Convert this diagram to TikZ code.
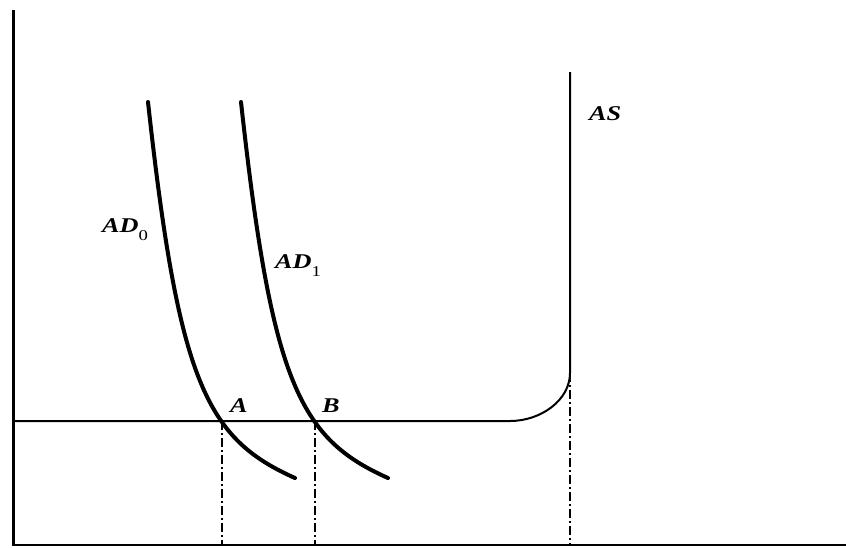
\documentclass[tikz,border=0pt]{standalone}
\usepackage{fontspec}
\setmainfont{Liberation Serif}
\newcommand{\widelbl}[1]{\scalebox{1.25}[1]{#1}}
\newcommand{\lowsub}[1]{\raisebox{-8pt}{\fontsize{15}{15}\selectfont\upshape\mdseries #1}}
\begin{document}
\begin{tikzpicture}[x=1pt,y=-1pt,
  axisline/.style={line width=2pt},
  adcurve/.style={line width=4pt,line cap=round},
  ascurve/.style={line width=2pt},
  guide/.style={line width=2pt,dash pattern=on 9pt off 3pt on 2pt off 3pt},
  lbl/.style={inner sep=0pt,anchor=base west,font=\fontsize{21}{25}\selectfont\bfseries\itshape}]
\useasboundingbox (0,0) rectangle (846,547);
% axes
\coordinate (O) at (13.5,544.5);
\coordinate (Ytop) at (13.5,10);
\coordinate (Xend) at (846,544.5);
\draw[line width=3pt] (Ytop) -- (O |- 0,546);
\draw[axisline] (O) -- (Xend);
% AS curve
\coordinate (ASleft) at (13.5,421);
\coordinate (ASbend) at (510,421);
\coordinate (ASknee) at (570,373);
\coordinate (AStop) at (570,72);
\coordinate (ASfoot) at (570,544.5);
\draw[ascurve] (ASleft) -- (ASbend) .. controls (541,421) and (570,400) .. (ASknee) -- (AStop);
% AD curves
\coordinate (D0s) at (148,102);
\coordinate (D0e) at (295,478);
\coordinate (D1s) at (241,102);
\coordinate (D1e) at (388,478);
\draw[adcurve] (D0s) .. controls (178.8,382) and (206,438.4) .. (D0e);
\draw[adcurve] (D1s) .. controls (271.8,382) and (299,438.4) .. (D1e);
% guides
\coordinate (A) at (222,421);
\coordinate (B) at (315,421);
\draw[guide] (A) -- (A |- O);
\draw[guide] (B) -- (B |- O);
\draw[guide] (ASknee) -- (ASfoot);
% labels
\node[lbl] (lAD0) at (102,232) {\widelbl{AD\lowsub{0}}};
\node[lbl] (lAD1) at (275,268) {\widelbl{AD\lowsub{1}}};
\node[lbl] (lA) at (230,412) {\widelbl{A}};
\node[lbl] (lB) at (322,412) {\widelbl{B}};
\node[lbl] (lAS) at (589,120) {\widelbl{AS}};
\end{tikzpicture}
\end{document}
